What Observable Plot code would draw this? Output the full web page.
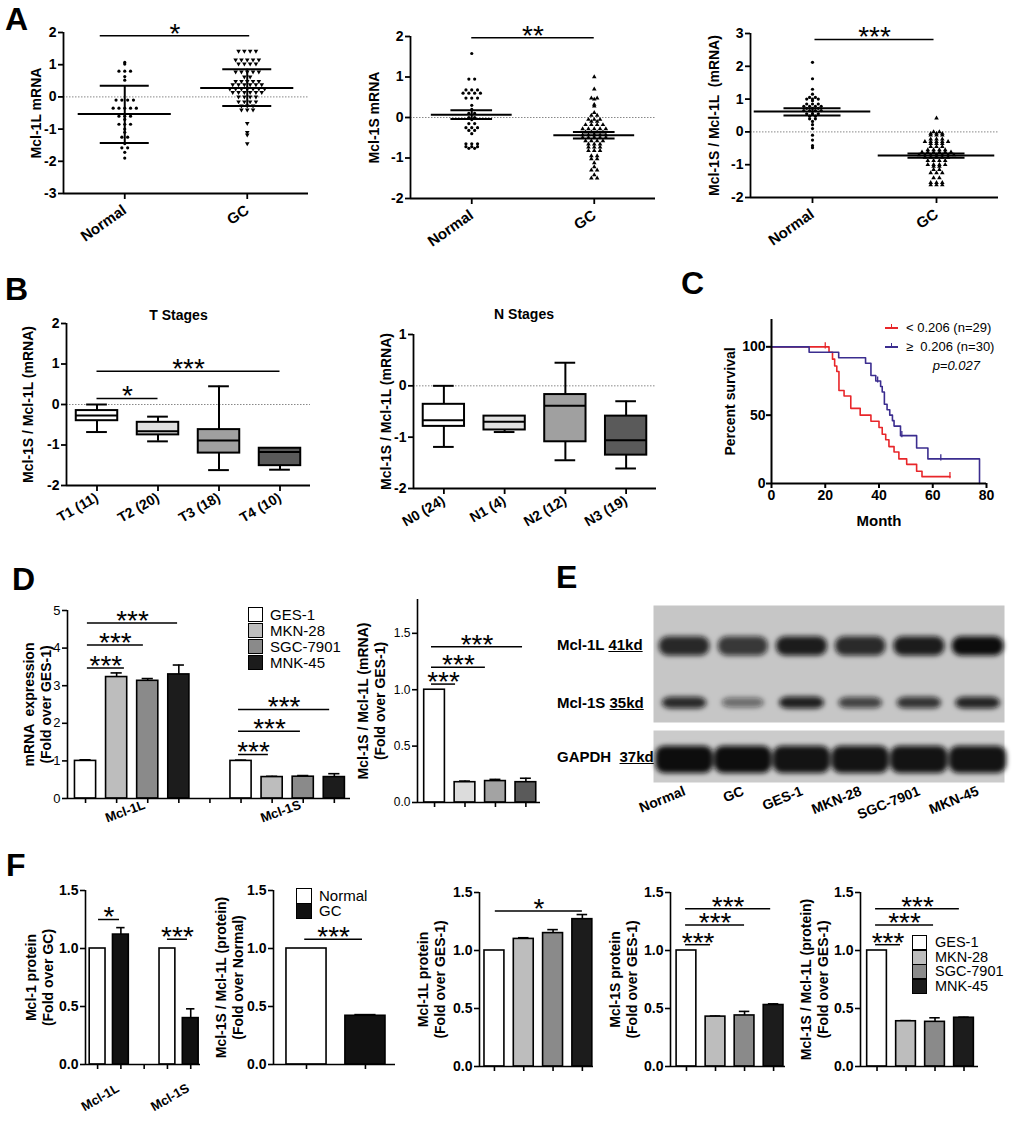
<!DOCTYPE html>
<html><head><meta charset="utf-8">
<script src="https://cdn.jsdelivr.net/npm/d3@7"></script>
<script src="https://cdn.jsdelivr.net/npm/@observablehq/plot@0.6"></script>
<style>
body{margin:0;background:#fff;}
#fig{position:relative;width:1020px;height:1123px;overflow:hidden;background:#fff;font-family:"Liberation Sans",Arial,sans-serif;color:#000;}
#fig svg{position:absolute;}
.letter{position:absolute;font-size:32px;font-weight:bold;line-height:1;}
.t{position:absolute;white-space:nowrap;line-height:1;}
.sw{position:absolute;box-sizing:border-box;border:1.5px solid #000;}
</style></head>
<body><div id="fig"></div>
<script>
// ================= DATA =================
// Panel A
const groupsA = ["Normal", "GC"];
const a1Normal = [1.07, 1.02, 0.8, 0.8, 0.8, 0.63, 0.52, -0.1, -0.1, -0.1, -0.1, -0.35, -0.35, -0.35, -0.35, -0.35, -0.6, -0.6, -0.6, -0.7, -0.85, -0.85, -0.85, -1.0, -1.1, -1.25, -1.25, -1.45, -1.58, -1.58, -1.72, -1.9];
const a1GC = [1.42, 1.42, 1.42, 1.42, 1.15, 1.15, 1.15, 1.15, 1.15, 1.03, 1.03, 1.03, 1.03, 0.78, 0.78, 0.78, 0.78, 0.78, 0.62, 0.62, 0.48, 0.48, 0.48, 0.48, 0.48, 0.38, 0.38, 0.38, 0.38, 0.38, 0.38, 0.25, 0.25, 0.25, 0.25, 0.25, 0.25, 0.25, 0.14, 0.14, 0.14, 0.14, 0.14, 0.14, 0.0, 0.0, 0.0, 0.0, -0.15, -0.15, -0.15, -0.15, -0.28, -0.28, -0.28, -0.4, -0.4, -0.4, -0.82, -1.1, -1.18, -1.45];
const a1Mean = [-0.53, 0.28], a1Hi = [0.35, 0.86], a1Lo = [-1.43, -0.28];

const a2Normal = [1.58, 0.95, 0.95, 0.68, 0.68, 0.68, 0.6, 0.6, 0.6, 0.6, 0.48, 0.48, 0.48, 0.3, 0.2, 0.1, 0.1, 0.0, 0.0, -0.05, -0.15, -0.15, -0.25, -0.25, -0.25, -0.32, -0.32, -0.4, -0.65, -0.65, -0.65, -0.72, -0.72, -0.72, -0.76, -0.76];
const a2GC = [1.0, 0.7, 0.48, 0.48, 0.45, 0.32, 0.28, 0.12, 0.05, 0.05, -0.05, -0.05, -0.05, -0.1, -0.1, -0.18, -0.18, -0.18, -0.18, -0.28, -0.28, -0.28, -0.28, -0.28, -0.36, -0.36, -0.36, -0.36, -0.43, -0.43, -0.43, -0.43, -0.43, -0.5, -0.5, -0.5, -0.5, -0.5, -0.58, -0.58, -0.58, -0.58, -0.66, -0.66, -0.66, -0.73, -0.73, -0.73, -0.82, -0.82, -0.82, -0.95, -0.95, -1.02, -1.02, -1.12, -1.22, -1.3, -1.3, -1.42, -1.5, -1.5];
const a2Mean = [0.07, -0.44], a2Hi = [0.18, -0.36], a2Lo = [-0.04, -0.52];

const a3Normal = [2.12, 1.62, 1.3, 1.15, 1.05, 1.05, 1.0, 1.0, 1.0, 0.95, 0.85, 0.85, 0.85, 0.78, 0.78, 0.78, 0.78, 0.72, 0.72, 0.72, 0.65, 0.65, 0.65, 0.65, 0.55, 0.55, 0.55, 0.48, 0.48, 0.4, 0.4, 0.32, 0.22, 0.1, -0.1, -0.25, -0.42, -0.48];
const a3GC = [0.42, 0.0, 0.0, -0.05, -0.05, -0.05, -0.1, -0.1, -0.1, -0.22, -0.22, -0.22, -0.3, -0.3, -0.3, -0.3, -0.3, -0.36, -0.36, -0.36, -0.45, -0.45, -0.45, -0.55, -0.55, -0.55, -0.55, -0.62, -0.62, -0.62, -0.62, -0.62, -0.62, -0.7, -0.7, -0.7, -0.7, -0.7, -0.7, -0.7, -0.78, -0.78, -0.78, -0.78, -0.78, -0.88, -0.88, -0.88, -0.88, -1.0, -1.0, -1.0, -1.0, -1.05, -1.05, -1.15, -1.15, -1.25, -1.25, -1.25, -1.4, -1.4, -1.55, -1.55, -1.55, -1.62, -1.62, -1.62];
const a3Mean = [0.62, -0.72], a3Hi = [0.72, -0.66], a3Lo = [0.5, -0.79];

// Panel B (box plots)
const tStages = ["T1 (11)", "T2 (20)", "T3 (18)", "T4 (10)"];
const tMin = [-0.68, -0.91, -1.62, -1.61];
const tQ1  = [-0.40, -0.75, -1.20, -1.51];
const tMed = [-0.27, -0.66, -0.89, -1.17];
const tQ3  = [-0.15, -0.44, -0.62, -1.08];
const tMax = [0.0, -0.30, 0.45, -1.08];
const nStages = ["N0 (24)", "N1 (4)", "N2 (12)", "N3 (19)"];
const nMin = [-1.19, -0.90, -1.45, -1.61];
const nQ1  = [-0.79, -0.86, -1.09, -1.35];
const nMed = [-0.67, -0.70, -0.39, -1.06];
const nQ3  = [-0.36, -0.59, -0.17, -0.59];
const nMax = [0.0, -0.59, 0.45, -0.30];

// Panel C (Kaplan-Meier)
const lowT  = [0, 21.4, 22.7, 23.5, 24.3, 25.1, 27.0, 29.5, 33.0, 37.0, 40.0, 41.2, 42.5, 43.7, 45.6, 47.4, 50.3, 54.0, 56.0, 66.4];
const lowS  = [100, 96, 91, 86, 82, 68, 64, 55, 50, 45.5, 41, 36, 32, 27, 23, 18, 14, 9, 5, 5];
const lowCensT = [20, 66.4], lowCensS = [100, 5];
const highT = [0, 14, 25, 35, 37, 38.8, 40.6, 41.2, 42, 43, 44, 45, 45.6, 48, 54, 58.2, 77.4];
const highS = [100, 96, 92, 88, 79, 75, 71, 67, 58, 54, 50, 46, 42, 35, 26, 18, 0];
const highCensT = [39.5, 48.5, 63], highCensS = [75, 35, 18];

// Panel D (mRNA bars)
const cellLines = ["GES-1", "MKN-28", "SGC-7901", "MNK-45"];
const isoforms = ["Mcl-1L", "Mcl-1S"];
const dL = [1.0, 3.23, 3.13, 3.30], dLe = [0.03, 0.11, 0.06, 0.25];
const dS = [1.0, 0.57, 0.58, 0.57], dSe = [0.02, 0.02, 0.03, 0.09];
const dRatio = [1.0, 0.18, 0.19, 0.18], dRatioE = [0.0, 0.01, 0.015, 0.035];
const d1Sig = [{x1: 0.06, x2: 1.25, y: 3.47, t: "***"}, {x1: 0.06, x2: 1.86, y: 4.08, t: "***"}, {x1: 0.06, x2: 2.96, y: 4.67, t: "***"},
               {x1: 4.92, x2: 5.88, y: 1.17, t: "***"}, {x1: 4.92, x2: 6.91, y: 1.79, t: "***"}, {x1: 4.92, x2: 7.85, y: 2.37, t: "***"}];
const d2Sig = [{x1: -0.1, x2: 0.69, y: 1.05, t: "***"}, {x1: -0.1, x2: 1.67, y: 1.20, t: "***"}, {x1: -0.1, x2: 2.89, y: 1.38, t: "***"}];

// Panel E (western blot band intensities, relative)
const lanes = ["Normal", "GC", "GES-1", "MKN-28", "SGC-7901", "MKN-45"];
const blotRows = ["Mcl-1L", "Mcl-1S", "GAPDH"];
const bandMcl1L = [0.86, 0.78, 0.92, 0.85, 0.92, 1.0];
const bandMcl1S = [0.85, 0.5, 0.9, 0.72, 0.8, 0.88];
const bandGAPDH = [1.0, 1.0, 0.97, 0.97, 0.97, 0.97];

// Panel F (protein bars)
const fNormal = [1.0, 1.0], fNormalE = [0, 0];
const fGC = [1.12, 0.40], fGCe = [0.06, 0.08];
const fRatio = [1.0, 0.42], fRatioE = [0, 0.01];
const f3 = [1.0, 1.10, 1.15, 1.27], f3e = [0, 0.01, 0.03, 0.04];
const f4 = [1.0, 0.43, 0.44, 0.53], f4e = [0, 0.005, 0.035, 0.01];
const f5 = [1.0, 0.39, 0.385, 0.42], f5e = [0, 0.006, 0.035, 0.005];
const f1Sig = [{x1: 0.04, x2: 0.94, y: 1.25, t: "*"}, {x1: 3.0, x2: 3.86, y: 1.08, t: "***"}];
const f2Sig = [{x1: -0.03, x2: 0.95, y: 1.08, t: "***"}];
const f3Sig = [{x1: 0.03, x2: 3.0, y: 1.34, t: "*"}];
const f4Sig = [{x1: -0.03, x2: 0.83, y: 1.05, t: "***"}, {x1: -0.03, x2: 2.0, y: 1.22, t: "***"}, {x1: -0.03, x2: 2.9, y: 1.36, t: "***"}];
const f5Sig = [{x1: -0.05, x2: 0.81, y: 1.05, t: "***"}, {x1: -0.05, x2: 1.95, y: 1.22, t: "***"}, {x1: -0.05, x2: 2.84, y: 1.36, t: "***"}];

// ================= STYLE =================
const FONT = '"Liberation Sans", Arial, sans-serif';
const RED = "#e8262a", PURPLE = "#3b2d8f";
const cellFill = ["white", "#bdbdbd", "#8a8a8a", "#1c1c1c"];
const cellFill2 = ["white", "#dcdcdc", "#a3a3a3", "#5a5a5a"];
const boxFill = ["white", "#e0e0e0", "#a0a0a0", "#5a5a5a"];
const fig = document.getElementById("fig");

function mount(svg, left, top) { svg.style.left = left + "px"; svg.style.top = top + "px"; fig.appendChild(svg); return svg; }
function style(extra) { return Object.assign({fontFamily: FONT, fontSize: "14px", fontWeight: "bold", color: "black", background: "transparent", overflow: "visible"}, extra || {}); }
function yLabel(label, dx, size) {
  return Plot.text([label], {text: d => d, frameAnchor: "left", textAnchor: "middle", lineAnchor: "middle", dx, rotate: -90, fontSize: size || 14, fontWeight: "bold", lineHeight: 1.2});
}
function axesLines(xd, yd, sw) {
  return [Plot.ruleX([xd[0]], {y1: yd[0], y2: yd[1], strokeWidth: sw || 1.8}),
          Plot.ruleY([yd[0]], {x1: xd[0], x2: xd[1], strokeWidth: sw || 1.8})];
}
function sigMarks(sigs, size) {
  return [Plot.ruleY(sigs, {y: "y", x1: "x1", x2: "x2", strokeWidth: 1.5}),
          Plot.text(sigs, {x: d => (d.x1 + d.x2) / 2, y: "y", text: "t", dy: -2, fontSize: size || 28, fontWeight: "normal"})];
}
function plotAt(g, opts) {
  return mount(Plot.plot(Object.assign({width: g.width, height: g.height, marginLeft: g.ml, marginRight: g.mr, marginTop: g.mt, marginBottom: g.mb, style: style(g.style)}, opts)), g.left, g.top);
}

// beeswarm rows: equal values spread horizontally around the group centre
function swarm(vals, gi, stepU) {
  const out = [];
  for (const [v, arr] of d3.group(vals, d => d)) arr.forEach((_, j) => out.push({x: gi + (j - (arr.length - 1) / 2) * stepU, y: v}));
  return out;
}

function scatterPanel(p) {
  const g = p.geo, xd = [-0.5, 1.5];
  const ppu = (g.width - g.ml - g.mr) / 2, stepU = 5.8 / ppu;
  const marks = [Plot.ruleY([0], {stroke: "#888", strokeWidth: 1, strokeDasharray: "1.5,1.5"})];
  p.groups.forEach((gr, gi) => marks.push(Plot.dot(swarm(gr.vals, gi, stepU), {x: "x", y: "y", r: gr.r, symbol: gr.symbol, rotate: gr.rot || 0, fill: "black", stroke: "none"})));
  const st = p.groups.map((gr, gi) => ({x: gi, m: gr.mean, hi: gr.hi, lo: gr.lo}));
  marks.push(Plot.ruleX(st, {x: "x", y1: "lo", y2: "hi", strokeWidth: 2}));
  marks.push(Plot.ruleY(st, {y: "m", x1: d => d.x - p.meanHW, x2: d => d.x + p.meanHW, strokeWidth: 2}));
  marks.push(Plot.ruleY(st, {y: "hi", x1: d => d.x - p.capHW, x2: d => d.x + p.capHW, strokeWidth: 2}));
  marks.push(Plot.ruleY(st, {y: "lo", x1: d => d.x - p.capHW, x2: d => d.x + p.capHW, strokeWidth: 2}));
  marks.push(...sigMarks([p.sig]));
  marks.push(...axesLines(xd, p.yd));
  marks.push(Plot.axisY(p.yticks, {tickFormat: d => String(d), tickSize: 5, tickPadding: 2, strokeWidth: 1.8, fontSize: 14, label: null}));
  marks.push(Plot.axisX([0, 1], {tickFormat: i => groupsA[i], tickRotate: -35, tickSize: 6, tickPadding: 9, strokeWidth: 1.8, fontSize: 15, label: null}));
  marks.push(yLabel(p.ylabel, p.ldx));
  plotAt(g, {x: {domain: xd, label: null}, y: {domain: p.yd, label: null}, marks});
}

function boxPanel(p) {
  const g = p.geo, xd = [-0.5, 3.5];
  const rows = p.labels.map((l, i) => ({x: i, mn: p.min[i], q1: p.q1[i], md: p.med[i], q3: p.q3[i], mx: p.max[i], fill: boxFill[i]}));
  const marks = [Plot.ruleY([0], {stroke: "#888", strokeWidth: 1, strokeDasharray: "1.5,1.5"}),
    Plot.ruleX(rows, {x: "x", y1: "q3", y2: "mx", strokeWidth: 2}),
    Plot.ruleX(rows, {x: "x", y1: "mn", y2: "q1", strokeWidth: 2}),
    Plot.ruleY(rows, {y: "mx", x1: d => d.x - 0.17, x2: d => d.x + 0.17, strokeWidth: 2}),
    Plot.ruleY(rows, {y: "mn", x1: d => d.x - 0.17, x2: d => d.x + 0.17, strokeWidth: 2}),
    Plot.rect(rows, {x1: d => d.x - 0.34, x2: d => d.x + 0.34, y1: "q1", y2: "q3", fill: "fill", stroke: "black", strokeWidth: 2}),
    Plot.ruleY(rows, {y: "md", x1: d => d.x - 0.34, x2: d => d.x + 0.34, strokeWidth: 2})];
  if (p.sigs) marks.push(...sigMarks(p.sigs));
  marks.push(...axesLines(xd, p.yd));
  marks.push(Plot.axisY(p.yticks, {tickFormat: d => String(d), tickSize: 5, tickPadding: 2, strokeWidth: 1.8, fontSize: 14, label: null}));
  marks.push(Plot.axisX(d3.range(4), {tickFormat: i => p.labels[i], tickRotate: -30, tickSize: 6, tickPadding: 5, strokeWidth: 1.8, fontSize: 14, label: null}));
  marks.push(Plot.text([p.title], {text: d => d, frameAnchor: "top", dx: p.tdx, dy: p.tdy, fontSize: 14, fontWeight: "bold"}));
  marks.push(yLabel(p.ylabel, p.ldx));
  plotAt(g, {x: {domain: xd, label: null}, y: {domain: p.yd, label: null}, marks});
}

function barPanel(p) {
  const g = p.geo;
  const eb = p.bars.filter(d => d.e > 0);
  const marks = [
    Plot.ruleX(eb, {x: "x", y1: "v", y2: d => d.v + d.e, strokeWidth: 1.6}),
    Plot.ruleY(eb, {y: d => d.v + d.e, x1: d => d.x - 0.18, x2: d => d.x + 0.18, strokeWidth: 1.6}),
    Plot.rect(p.bars, {x1: d => d.x - 0.34, x2: d => d.x + 0.34, y1: 0, y2: "v", fill: "fill", stroke: "black", strokeWidth: 1.6}),
    ...axesLines(p.xd, [p.yd[0], p.yd[1]], 1.6),
    Plot.axisY(p.yticks, {tickFormat: p.yfmt, tickSize: 5, tickPadding: 2, strokeWidth: 1.6, fontSize: p.tickSize || 14, fontWeight: p.tickWeight || "bold", label: null}),
    Plot.axisX(p.xticks, {tickFormat: () => "", tickSize: 5, strokeWidth: 1.6, label: null})
  ];
  if (p.sigs) marks.push(...sigMarks(p.sigs));
  if (p.groupText) marks.push(Plot.text(p.groupText, {x: "x", y: p.yd[0], text: "t", dx: p.gdx, dy: p.gdy, rotate: p.grot, fontSize: 13, fontWeight: "bold"}));
  marks.push(yLabel(p.ylabel, p.ldx));
  plotAt(g, {x: {domain: p.xd, label: null}, y: {domain: p.yd, label: null}, marks});
}

// ================= PANEL A =================
scatterPanel({geo: {left: 0, top: 0, width: 320, height: 262, ml: 63, mr: 12, mt: 32, mb: 69}, yd: [-3, 2], yticks: [-3, -2, -1, 0, 1, 2],
  ylabel: "Mcl-1L mRNA", ldx: -28, meanHW: 0.38, capHW: 0.2, sig: {x1: -0.2, x2: 1.02, y: 1.9, t: "*"},
  groups: [{vals: a1Normal, mean: a1Mean[0], hi: a1Hi[0], lo: a1Lo[0], symbol: "circle", r: 1.6},
           {vals: a1GC, mean: a1Mean[1], hi: a1Hi[1], lo: a1Lo[1], symbol: "triangle", r: 1.7, rot: 180}]});
scatterPanel({geo: {left: 340, top: 0, width: 330, height: 262, ml: 70, mr: 15, mt: 36, mb: 64}, yd: [-2, 2], yticks: [-2, -1, 0, 1, 2],
  ylabel: "Mcl-1S mRNA", ldx: -37, meanHW: 0.33, capHW: 0.17, sig: {x1: 0.0, x2: 1.0, y: 1.97, t: "**"},
  groups: [{vals: a2Normal, mean: a2Mean[0], hi: a2Hi[0], lo: a2Lo[0], symbol: "circle", r: 1.6},
           {vals: a2GC, mean: a2Mean[1], hi: a2Hi[1], lo: a2Lo[1], symbol: "triangle", r: 1.7}]});
scatterPanel({geo: {left: 680, top: 0, width: 330, height: 262, ml: 70, mr: 12, mt: 33, mb: 65}, yd: [-2, 3], yticks: [-2, -1, 0, 1, 2, 3],
  ylabel: "Mcl-1S / Mcl-1L  (mRNA)", ldx: -37, meanHW: 0.47, capHW: 0.23, sig: {x1: 0.02, x2: 0.98, y: 2.82, t: "***"},
  groups: [{vals: a3Normal, mean: a3Mean[0], hi: a3Hi[0], lo: a3Lo[0], symbol: "circle", r: 1.6},
           {vals: a3GC, mean: a3Mean[1], hi: a3Hi[1], lo: a3Lo[1], symbol: "triangle", r: 1.7}]});

// ================= PANEL B =================
boxPanel({geo: {left: 0, top: 280, width: 330, height: 275, ml: 66, mr: 20, mt: 43, mb: 70}, yd: [-2, 2], yticks: [-2, -1, 0, 1, 2],
  labels: tStages, min: tMin, q1: tQ1, med: tMed, q3: tQ3, max: tMax, title: "T Stages", tdx: -10, tdy: -13,
  ylabel: "Mcl-1S / Mcl-1L (mRNA)", ldx: -39, sigs: [{x1: 0, x2: 1, y: 0.15, t: "*"}, {x1: 0, x2: 3, y: 0.82, t: "***"}]});
boxPanel({geo: {left: 340, top: 280, width: 330, height: 275, ml: 73, mr: 14, mt: 54, mb: 67}, yd: [-2, 1], yticks: [-2, -1, 0, 1],
  labels: nStages, min: nMin, q1: nQ1, med: nMed, q3: nQ3, max: nMax, title: "N Stages", tdx: -11, tdy: -25,
  ylabel: "Mcl-1S / Mcl-1L (mRNA)", ldx: -28});

// ================= PANEL C =================
{
  const g = {left: 680, top: 280, width: 330, height: 275, ml: 91, mr: 24, mt: 39, mb: 72};
  const low = lowT.map((t, i) => ({t, s: lowS[i]})), high = highT.map((t, i) => ({t, s: highS[i]}));
  const lc = lowCensT.map((t, i) => ({t, s: lowCensS[i]})), hc = highCensT.map((t, i) => ({t, s: highCensS[i]}));
  plotAt(g, {x: {domain: [0, 80], label: null}, y: {domain: [0, 120], label: null}, marks: [
    Plot.line(low, {x: "t", y: "s", curve: "step-after", stroke: RED, strokeWidth: 1.6}),
    Plot.line(high, {x: "t", y: "s", curve: "step-after", stroke: PURPLE, strokeWidth: 1.6}),
    Plot.ruleX(lc, {x: "t", y1: d => d.s - 1.5, y2: d => d.s + 3, stroke: RED, strokeWidth: 1.3}),
    Plot.ruleX(hc, {x: "t", y1: d => d.s - 1.5, y2: d => d.s + 3, stroke: PURPLE, strokeWidth: 1.3}),
    ...axesLines([0, 80], [0, 120], 2),
    Plot.axisY([0, 50, 100], {tickFormat: d => String(d), tickSize: 5, tickPadding: 1, strokeWidth: 2, fontSize: 14, label: null}),
    Plot.axisX([0, 20, 40, 60, 80], {tickFormat: d => String(d), tickSize: 5, tickPadding: 2, strokeWidth: 2, fontSize: 14, label: null}),
    yLabel("Percent survival", -42, 14),
    Plot.text(["Month"], {text: d => d, frameAnchor: "bottom", dy: 42, fontSize: 15, fontWeight: "bold"})
  ]});
}

// ================= PANEL D =================
{
  const bars = [];
  isoforms.forEach((iso, k) => cellLines.forEach((c, i) => bars.push({x: k * 5 + i, v: (k ? dS : dL)[i], e: (k ? dSe : dLe)[i], fill: cellFill[i]})));
  barPanel({geo: {left: 0, top: 560, width: 360, height: 270, ml: 67, mr: 10, mt: 50, mb: 32}, xd: [-0.58, 8.52], yd: [0, 5], yticks: [0, 1, 2, 3, 4, 5],
    yfmt: d => String(d), tickWeight: "normal", tickSize: 13, xticks: d3.range(9), bars, sigs: d1Sig,
    groupText: isoforms.map((t, k) => ({x: k * 5 + 1.5, t})), gdx: -7, gdy: 13, grot: -20,
    ylabel: "mRNA  expression\n(Fold over GES-1)", ldx: -30});
  const bars2 = cellLines.map((c, i) => ({x: i, v: dRatio[i], e: dRatioE[i], fill: cellFill2[i]}));
  barPanel({geo: {left: 340, top: 560, width: 210, height: 270, ml: 77, mr: 10, mt: 39, mb: 28}, xd: [-0.56, 3.48], yd: [0, 1.8], yticks: [0, 0.5, 1, 1.5],
    yfmt: d => d.toFixed(1), tickWeight: "normal", tickSize: 12, xticks: d3.range(4), bars: bars2, sigs: d2Sig,
    ylabel: "Mcl-1S / Mcl-1L (mRNA)\n(Fold over GES-1)", ldx: -46});
}

// ================= PANEL E =================
{
  const g = {left: 540, top: 600, width: 480, height: 215, ml: 113, mr: 16, mt: 5, mb: 33};
  const intens = [bandMcl1L, bandMcl1S, bandGAPDH];
  const halfH = [0.17, 0.11, 0.24], halfW = [0.44, 0.39, 0.49];
  const bands = [];
  blotRows.forEach((r, k) => lanes.forEach((l, i) => bands.push({lane: i, row: k, a: intens[k][i], h: halfH[k] * (k === 1 ? 0.6 + 0.4 * intens[k][i] : 1), w: halfW[k] * (0.85 + 0.15 * intens[k][i])})));
  const svg = plotAt(g, {x: {domain: [-0.53, 5.45], label: null}, y: {domain: [-0.72, 2.4], reverse: true, axis: null}, marks: [
    Plot.frame({fill: "#c6c6c6", stroke: "none", insetBottom: 60}),
    Plot.frame({fill: "#cbcbcb", stroke: "none", insetTop: 125}),
    Plot.rect(bands, {x1: d => d.lane - d.w, x2: d => d.lane + d.w, y1: d => d.row - d.h, y2: d => d.row + d.h, fill: "#0e0e0e", fillOpacity: "a", rx: 9}),
    Plot.axisX(d3.range(6), {tickFormat: i => lanes[i], tickRotate: -22, tickSize: 0, tickPadding: 8, fontSize: 14, label: null})
  ]});
  const ns = "http://www.w3.org/2000/svg";
  const defs = document.createElementNS(ns, "defs");
  defs.innerHTML = '<filter id="blotBlur" x="-30%" y="-80%" width="160%" height="260%"><feGaussianBlur stdDeviation="2.4"/></filter>';
  svg.insertBefore(defs, svg.firstChild);
  svg.querySelectorAll('g[aria-label="rect"]').forEach(el => el.setAttribute("filter", "url(#blotBlur)"));
}

// ================= PANEL F =================
{
  const b1 = [];
  isoforms.forEach((iso, k) => { b1.push({x: k * 3, v: fNormal[k], e: fNormalE[k], fill: "white"}); b1.push({x: k * 3 + 1, v: fGC[k], e: fGCe[k], fill: "#111"}); });
  barPanel({geo: {left: 0, top: 840, width: 210, height: 283, ml: 85, mr: 10, mt: 50, mb: 59}, xd: [-0.52, 4.42], yd: [0, 1.5], yticks: [0, 0.5, 1, 1.5],
    yfmt: d => d.toFixed(1), xticks: d3.range(5), bars: b1, sigs: f1Sig,
    groupText: isoforms.map((t, k) => ({x: k * 3 + 0.5, t})), gdx: -9, gdy: 33, grot: -30,
    ylabel: "Mcl-1 protein\n(Fold over GC)", ldx: -46});
  const b2 = fRatio.map((v, i) => ({x: i, v, e: fRatioE[i], fill: i ? "#111" : "white"}));
  barPanel({geo: {left: 200, top: 840, width: 210, height: 283, ml: 73, mr: 15, mt: 50, mb: 59}, xd: [-0.56, 1.51], yd: [0, 1.5], yticks: [0, 0.5, 1, 1.5],
    yfmt: d => d.toFixed(1), xticks: [0, 1], bars: b2, sigs: f2Sig,
    ylabel: "Mcl-1S / Mcl-1L (protein)\n(Fold over Normal)", ldx: -44});
  const mk = (vals, errs) => vals.map((v, i) => ({x: i, v, e: errs[i], fill: cellFill[i]}));
  barPanel({geo: {left: 400, top: 840, width: 200, height: 283, ml: 79, mr: 7, mt: 52, mb: 57}, xd: [-0.51, 3.38], yd: [0, 1.5], yticks: [0, 0.5, 1, 1.5],
    yfmt: d => d.toFixed(1), xticks: d3.range(4), bars: mk(f3, f3e), sigs: f3Sig,
    ylabel: "Mcl-1L protein\n(Fold over GES-1)", ldx: -48});
  barPanel({geo: {left: 590, top: 840, width: 200, height: 283, ml: 80, mr: 5, mt: 52, mb: 57}, xd: [-0.55, 3.41], yd: [0, 1.5], yticks: [0, 0.5, 1, 1.5],
    yfmt: d => d.toFixed(1), xticks: d3.range(4), bars: mk(f4, f4e), sigs: f4Sig,
    ylabel: "Mcl-1S protein\n(Fold over GES-1)", ldx: -47});
  barPanel({geo: {left: 780, top: 840, width: 220, height: 283, ml: 80, mr: 22, mt: 52, mb: 57}, xd: [-0.57, 3.5], yd: [0, 1.5], yticks: [0, 0.5, 1, 1.5],
    yfmt: d => d.toFixed(1), xticks: d3.range(4), bars: mk(f5, f5e), sigs: f5Sig,
    ylabel: "Mcl-1S / Mcl-1L (protein)\n(Fold over GES-1)", ldx: -46});
}

// ================= HTML LABELS / LEGENDS =================
function txt(html, left, top, css) {
  const d = document.createElement("div"); d.className = "t"; d.innerHTML = html;
  Object.assign(d.style, {left: left + "px", top: top + "px"}, css || {}); fig.appendChild(d); return d;
}
function swatch(left, top, size, fill) {
  const d = document.createElement("div"); d.className = "sw";
  Object.assign(d.style, {left: left + "px", top: top + "px", width: size + "px", height: size + "px", background: fill}); fig.appendChild(d);
}
[["A", 5, 3], ["B", 5, 273], ["C", 681, 267], ["D", 12, 563], ["E", 556, 561], ["F", 6, 849]].forEach(([l, x, y]) => {
  const d = document.createElement("div"); d.className = "letter"; d.textContent = l; d.style.left = x + "px"; d.style.top = y + "px"; fig.appendChild(d);
});
// C legend
{
  const rows = [{c: RED, t: "&lt; 0.206 (n=29)", y: 328}, {c: PURPLE, t: "&ge;&nbsp; 0.206 (n=30)", y: 347}];
  rows.forEach(r => {
    const ln = document.createElement("div"); Object.assign(ln.style, {position: "absolute", left: "885px", top: (r.y - 0.75) + "px", width: "13px", height: "1.5px", background: r.c}); fig.appendChild(ln);
    const tk = document.createElement("div"); Object.assign(tk.style, {position: "absolute", left: "891px", top: (r.y - 4) + "px", width: "1.3px", height: "5px", background: r.c}); fig.appendChild(tk);
    txt(r.t, 906, r.y - 7, {fontSize: "13px"});
  });
  txt("p=0.027", 0, 359, {left: "auto", right: "40px", fontSize: "13px", fontStyle: "italic"});
}
// D legend
cellLines.forEach((c, i) => { swatch(248, 607 + i * 16, 15, cellFill[i]); txt(c, 270, 607 + i * 16, {fontSize: "15px"}); });
// E row labels
[["Mcl-1L <u>41kd</u>", 645], ["Mcl-1S <u>35kd</u>", 703], ["GAPDH&nbsp;&nbsp;<u>37kd</u>", 757]].forEach(([h, y]) => txt(h, 557, y - 8, {fontSize: "15px", fontWeight: "bold"}));
// F2 legend
[["Normal", "white"], ["GC", "#111"]].forEach(([t, f], i) => { swatch(296, 888 + i * 15, 16, f); txt(t, 319, 888 + i * 15, {fontSize: "15px"}); });
// F5 legend
cellLines.forEach((c, i) => { swatch(912, 935 + i * 14.7, 15, cellFill[i]); txt(c, 935, 935 + i * 14.7, {fontSize: "14.5px"}); });
</script></body></html>
